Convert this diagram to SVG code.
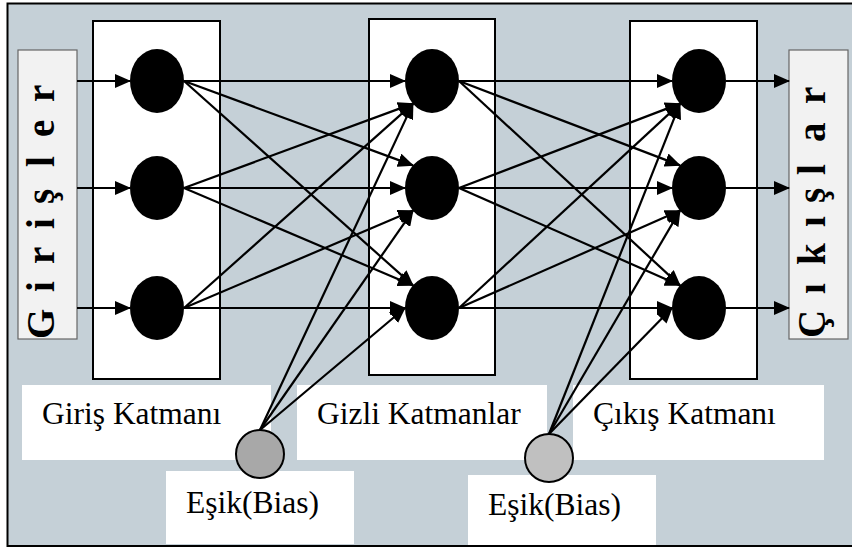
<svg xmlns="http://www.w3.org/2000/svg" width="852" height="548" viewBox="0 0 852 548">
  <style>
    .layer { fill: #ffffff; stroke: #000000; stroke-width: 2; }
    .io { fill: #f2f2f2; stroke: #666666; stroke-width: 1.2; }
    .label { fill: #ffffff; stroke: none; }
    .neuron { fill: #000000; }
    .bias { stroke: #000000; stroke-width: 2; }
    .lbl { font-family: "Liberation Serif", "Times New Roman", serif; font-size: 31.5px; fill: #000000; }
    .vert { font-family: "Liberation Serif", "Times New Roman", serif; font-size: 39px; font-weight: bold; fill: #000000; }
    .conn line { stroke: #000000; stroke-width: 2.2; marker-end: url(#arrow); }
  </style>
  <defs>
    <marker id="arrow" markerUnits="userSpaceOnUse" markerWidth="16" markerHeight="14" viewBox="0 0 16 14" refX="15" refY="7" orient="auto">
      <path d="M0,0 L16,7 L0,14 Z" fill="#000000"/>
    </marker>
  </defs>

  <!-- frame -->
  <rect x="7.5" y="3.5" width="850" height="542.5" fill="#c5d0d7" stroke="#000000" stroke-width="2"/>

  <!-- layer panels -->
  <g id="layer-input"><rect class="layer" x="93" y="21" width="127" height="358"/></g>
  <g id="layer-hidden"><rect class="layer" x="369" y="19" width="126" height="356"/></g>
  <g id="layer-output"><rect class="layer" x="630" y="21" width="127" height="358"/></g>

  <!-- input / output columns -->
  <g id="inputs">
    <rect class="io" x="18" y="50" width="59" height="289"/>
    <text class="vert" transform="translate(54,0) rotate(-90)" x="-339 -292 -264 -229 -204 -167 -137 -102" y="0">Girişler</text>
  </g>
  <g id="outputs">
    <rect class="io" x="789" y="50" width="59" height="289"/>
    <text class="vert" transform="translate(825,0) rotate(-90)" x="-338 -294 -265 -227 -203 -175 -142 -104" y="0">Çıkışlar</text>
  </g>

  <!-- captions -->
  <g id="caption-input"><rect class="label" x="22" y="385" width="249" height="75"/><text class="lbl" x="42" y="424">Giriş Katmanı</text></g>
  <g id="caption-hidden"><rect class="label" x="297" y="385" width="250" height="75"/><text class="lbl" x="317" y="424">Gizli Katmanlar</text></g>
  <g id="caption-output"><rect class="label" x="573" y="385" width="251" height="75"/><text class="lbl" x="593" y="424">Çıkış Katmanı</text></g>
  <g id="caption-bias1"><rect class="label" x="166" y="471" width="188" height="73"/><text class="lbl" x="186" y="513">Eşik(Bias)</text></g>
  <g id="caption-bias2"><rect class="label" x="468" y="475" width="188" height="70"/><text class="lbl" x="488" y="515">Eşik(Bias)</text></g>

  <!-- connections -->
  <g id="connectors" class="conn">
    <!-- inputs to input layer -->
    <line x1="77" y1="81" x2="130" y2="81"/>
    <line x1="77" y1="188" x2="130" y2="188"/>
    <line x1="77" y1="308" x2="130" y2="308"/>
    <!-- input layer to hidden layer -->
    <line x1="184" y1="81" x2="405" y2="81"/>
    <line x1="184" y1="81" x2="413" y2="165.4"/>
    <line x1="184" y1="81" x2="413" y2="285.4"/>
    <line x1="184" y1="188" x2="413" y2="103.6"/>
    <line x1="184" y1="188" x2="405" y2="188"/>
    <line x1="184" y1="188" x2="413" y2="285.4"/>
    <line x1="184" y1="308" x2="413" y2="103.6"/>
    <line x1="184" y1="308" x2="413" y2="210.6"/>
    <line x1="184" y1="308" x2="405" y2="308"/>
    <!-- bias to hidden layer -->
    <line x1="260" y1="430" x2="413" y2="103.6"/>
    <line x1="260" y1="430" x2="413" y2="210.6"/>
    <line x1="260" y1="430" x2="405" y2="308"/>
    <!-- hidden layer to output layer -->
    <line x1="459" y1="81" x2="672" y2="81"/>
    <line x1="459" y1="81" x2="680" y2="165.4"/>
    <line x1="459" y1="81" x2="680" y2="285.4"/>
    <line x1="459" y1="188" x2="680" y2="103.6"/>
    <line x1="459" y1="188" x2="672" y2="188"/>
    <line x1="459" y1="188" x2="680" y2="285.4"/>
    <line x1="459" y1="308" x2="680" y2="103.6"/>
    <line x1="459" y1="308" x2="680" y2="210.6"/>
    <line x1="459" y1="308" x2="672" y2="308"/>
    <!-- bias to output layer -->
    <line x1="549" y1="434" x2="680" y2="103.6"/>
    <line x1="549" y1="434" x2="680" y2="210.6"/>
    <line x1="549" y1="434" x2="672" y2="308"/>
    <!-- output layer to outputs -->
    <line x1="726" y1="81" x2="789" y2="81"/>
    <line x1="726" y1="188" x2="789" y2="188"/>
    <line x1="726" y1="308" x2="789" y2="308"/>
  </g>

  <!-- neurons -->
  <g id="in1"><ellipse class="neuron" cx="157" cy="81" rx="27" ry="32"/></g>
  <g id="in2"><ellipse class="neuron" cx="157" cy="188" rx="27" ry="32"/></g>
  <g id="in3"><ellipse class="neuron" cx="157" cy="308" rx="27" ry="32"/></g>
  <g id="h1"><ellipse class="neuron" cx="432" cy="81" rx="27" ry="32"/></g>
  <g id="h2"><ellipse class="neuron" cx="432" cy="188" rx="27" ry="32"/></g>
  <g id="h3"><ellipse class="neuron" cx="432" cy="308" rx="27" ry="32"/></g>
  <g id="o1"><ellipse class="neuron" cx="699" cy="81" rx="27" ry="32"/></g>
  <g id="o2"><ellipse class="neuron" cx="699" cy="188" rx="27" ry="32"/></g>
  <g id="o3"><ellipse class="neuron" cx="699" cy="308" rx="27" ry="32"/></g>

  <!-- bias units -->
  <g id="bias1"><circle class="bias" cx="260" cy="454" r="24" fill="#a8a8a8"/></g>
  <g id="bias2"><circle class="bias" cx="549" cy="458" r="24" fill="#c0c0c0"/></g>
</svg>
